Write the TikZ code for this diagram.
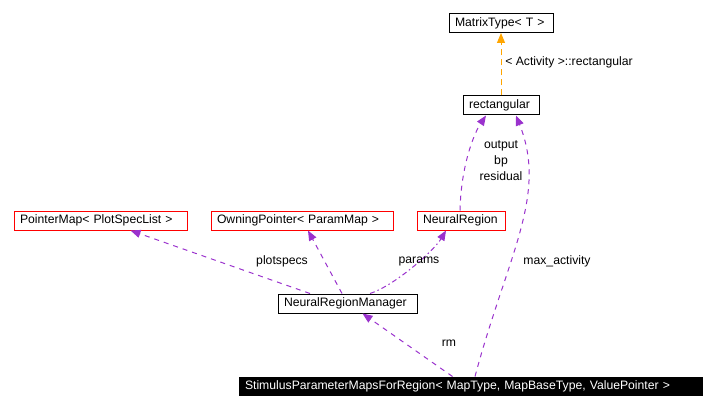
\documentclass[tikz,border=0pt]{standalone}
\usepackage{fontspec}
\setmainfont{Liberation Sans}
\usetikzlibrary{arrows.meta}
\definecolor{edgepurple}{RGB}{154, 50, 205}
\definecolor{edgeorange}{RGB}{255, 165, 0}
\hyphenpenalty=10000
\tikzset{
    classbox/.style={draw, line width=1pt, inner xsep=6pt, inner ysep=0pt, minimum height=19pt, align=left, font=\fontsize{12.2}{14}\selectfont},
    undocbox/.style={classbox, draw=red},
    focusbox/.style={classbox, fill=black, text=white},
    usage/.style={edgepurple, line width=1pt, dash pattern=on 5pt off 5pt, -{Triangle[length=10pt, width=8pt]}},
    tmplinst/.style={edgeorange, line width=1pt, dash pattern=on 6pt off 4pt, -{Triangle[length=10pt, width=8pt]}},
    edgelabel/.style={font=\fontsize{12.2}{16}\selectfont, inner sep=0pt, align=center}
}

\begin{document}
\begin{tikzpicture}[x=1pt, y=-1pt]
    \useasboundingbox (0, 0) rectangle (714, 409);

    % Classes
    \node[classbox, text width=92pt] (matrixtype) at (501, 23) {MatrixType< T >};
    \node[classbox, text width=64pt] (rectangular) at (501, 105.5) {rectangular};

    \node[undocbox, text width=161pt] (pointermap) at (100.5, 220.5) {PointerMap< PlotSpecList >};
    \node[undocbox, text width=170pt] (owningptr) at (302, 220.5) {OwningPointer< ParamMap >};
    \node[undocbox, text width=76pt] (neuralregion) at (461, 220.5) {NeuralRegion};

    \node[classbox, text width=127pt] (regionmgr) at (347.5, 303.5) {NeuralRegionManager};
    \node[focusbox, text width=451pt, minimum height=18pt] (stimmaps) at (470.5, 386) {StimulusParameterMapsForRegion< MapType, MapBaseType, ValuePointer >};

    % Template instance
    \draw[tmplinst] (rectangular.north) -- (matrixtype.south);
    \node[edgelabel] (tmpllabel) at (569, 62) {< Activity >::rectangular};

    % Members
    \draw[usage] ([xshift=-1pt]neuralregion.north) .. controls +(1, -45) and +(-12, 18) .. ([xshift=-15pt]rectangular.south);
    \node[edgelabel] (outlabel) at (501, 161) {output\\bp\\residual};

    \draw[usage] ([xshift=4.5pt]stimmaps.north) .. controls +(32, -120) and +(32, 80) .. ([xshift=15pt]rectangular.south);
    \node[edgelabel] (maxlabel) at (557, 261) {max\_activity};

    \draw[usage] ([xshift=-37.5pt]regionmgr.north) -- ([xshift=30pt]pointermap.south);
    \node[edgelabel] (plotlabel) at (282, 261) {plotspecs};

    \draw[usage] ([xshift=-5.5pt]regionmgr.north) -- ([xshift=6pt]owningptr.south);

    \draw[usage, dash pattern=on 5pt off 3pt on 1.5pt off 3pt] ([xshift=22.5pt]regionmgr.north) .. controls +(25, -8) and +(-12, 20) .. ([xshift=-15pt]neuralregion.south);
    \node[edgelabel] (paramlabel) at (419, 261) {params};

    \draw[usage] ([xshift=-18pt]stimmaps.north) -- ([xshift=15pt]regionmgr.south);
    \node[edgelabel] (rmlabel) at (449, 343) {rm};
\end{tikzpicture}
\end{document}
